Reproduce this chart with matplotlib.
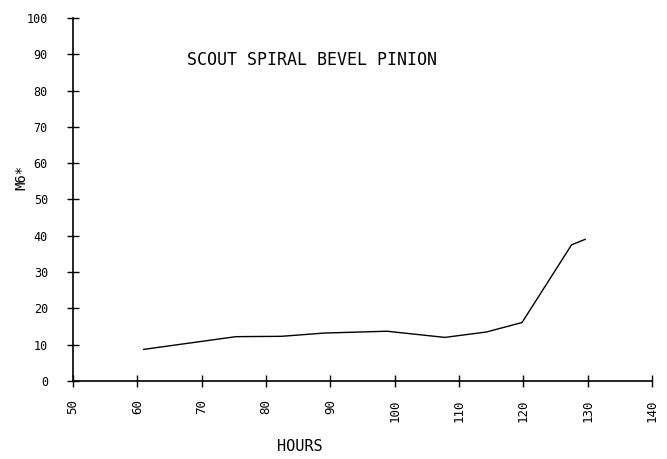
import matplotlib
matplotlib.use("Agg")
import matplotlib.pyplot as plt

# data
hours = [61.0, 75.3, 82.4, 89.1, 98.8, 107.8, 114.3, 119.8, 127.5, 129.6]
m6 = [8.7, 12.2, 12.3, 13.2, 13.7, 12.0, 13.5, 16.1, 37.5, 39.0]

x_ticks = list(range(50, 141, 10))
y_ticks = list(range(0, 101, 10))

plt.rcParams['font.family'] = ['DejaVu Sans Mono']

fig = plt.figure(figsize=(6.67, 4.59), dpi=100)
ax = fig.add_axes([0.1094, 0.170, 0.8681, 0.791])

ax.plot(hours, m6, color='black', linewidth=1.0)

ax.set_xlim(50, 140)
ax.set_ylim(0, 100)
ax.set_xticks(x_ticks)
ax.set_yticks(y_ticks)
ax.set_xticklabels([str(t) for t in x_ticks], rotation=90, fontsize=9)
ax.set_yticklabels([str(t) for t in y_ticks], fontsize=8.5)
ax.tick_params(axis='y', direction='inout', length=8, width=1, pad=14)
ax.tick_params(axis='x', direction='inout', length=8, width=1, pad=9)

ax.spines['top'].set_visible(False)
ax.spines['right'].set_visible(False)
ax.spines['left'].set_linewidth(1.2)
ax.spines['bottom'].set_linewidth(1.2)

ax.set_xlabel("HOURS", fontsize=11)
ax.xaxis.set_label_coords((300 - 73) / 579, -(439 - 381) / 363)
ax.set_ylabel("M6*", fontsize=10)
ax.yaxis.set_label_coords(-(73 - 28) / 579, (381 - 178) / 363)

ax.text(67.7, 88.4, "SCOUT SPIRAL BEVEL PINION", fontsize=12, va='center')

fig.savefig("out.png", dpi=100)
